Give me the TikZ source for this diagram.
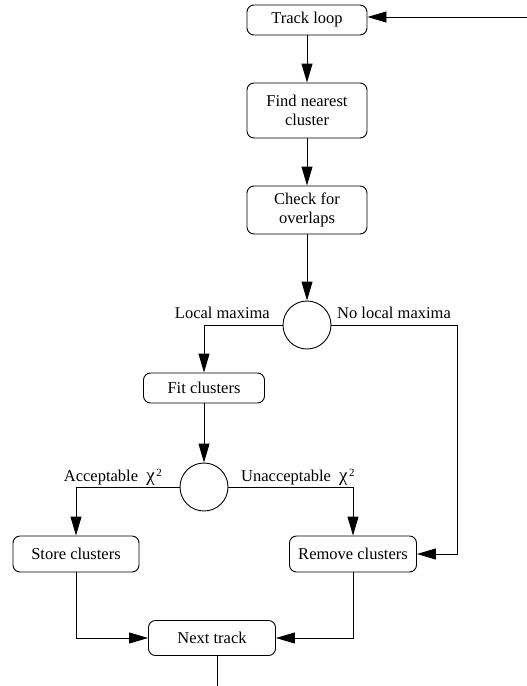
\documentclass[tikz,border=0pt]{standalone}
\usepackage{fontspec}
\setmainfont{Liberation Serif}
\usetikzlibrary{arrows.meta}
\newcommand{\chisq}{{\fontsize{19}{19}\selectfont χ}\kern1.5pt\raisebox{0.6ex}{\fontsize{11}{12}\selectfont 2}}
\begin{document}
\begin{tikzpicture}[x=1pt,y=-1pt,
  txt/.style={font=\fontsize{16.5}{19}\selectfont},
  stepbox/.style={txt,draw,rounded corners=7pt,line width=0.9pt,inner sep=0pt,align=center},
  decision/.style={draw,circle,line width=0.9pt,minimum size=48pt,inner sep=0pt},
  link/.style={line width=0.9pt},
  arr/.style={link,-{Triangle[length=19pt,width=11pt]}},
  lbl/.style={txt,inner sep=0pt}]
\useasboundingbox (0,0) rectangle (527,686);

% process boxes
\node[stepbox,minimum width=120pt,minimum height=30pt] (track) at (307,20) {Track loop};
\node[stepbox,minimum width=120pt,minimum height=55pt] (find) at (307,110.5) {Find nearest\\cluster};
\node[stepbox,minimum width=120pt,minimum height=48pt] (check) at (307,210) {Check for\\overlaps};
\node[decision] (c1) at (307,325) {};
\node[stepbox,minimum width=121pt,minimum height=30pt] (fit) at (204,388) {Fit clusters};
\node[decision] (c2) at (204,487) {};
\node[stepbox,minimum width=126pt,minimum height=36pt] (store) at (76,554) {Store clusters};
\node[stepbox,minimum width=127pt,minimum height=36pt] (remove) at (353,554) {Remove clusters};
\node[stepbox,minimum width=127pt,minimum height=35pt] (next) at (212,638) {Next track};

% free ends and bends
\coordinate (loopin) at (527,17);
\coordinate (rr) at (457,325);
\coordinate (out) at (217,686);

% connectors
\draw[arr] (loopin) -- (track.east |- loopin);
\draw[arr] (track) -- (find);
\draw[arr] (find) -- (check);
\draw[arr] (check) -- (c1);
\draw[arr] (c1.west) -| (fit.north);
\draw[arr] (c1.east) -- (rr) |- (remove.east);
\draw[arr] (fit) -- (c2);
\draw[arr] (c2.west) -| (store.north);
\draw[arr] (c2.east) -| (remove.north);
\draw[arr] (store.south) |- (next.west);
\draw[arr] (remove.south) |- (next.east);
\draw[link] (next.south -| out) -- (out);

% branch labels
\node[lbl,anchor=base east] (lm) at (270,318) {Local maxima};
\node[lbl,anchor=base west] (nlm) at (337,318) {No local maxima};
\node[lbl,anchor=base east] (acc) at (162,481) {Acceptable\ \ \chisq};
\node[lbl,anchor=base west] (unacc) at (241,481) {Unacceptable\ \ \chisq};
\end{tikzpicture}
\end{document}
